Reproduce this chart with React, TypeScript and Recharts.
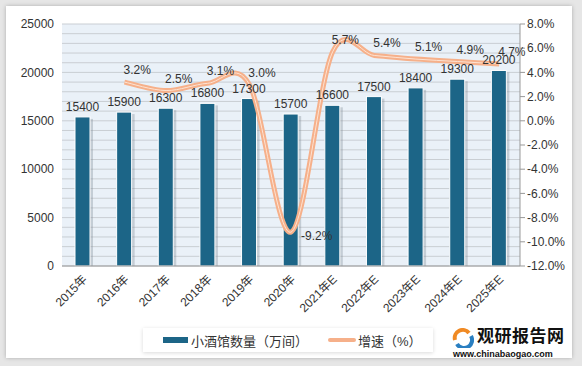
import React from 'react';
import { ComposedChart, Bar, Line, XAxis, YAxis, CartesianGrid, LabelList } from 'recharts';

// 小酒馆数量（万间）与增速
const years = ['2015年', '2016年', '2017年', '2018年', '2019年', '2020年', '2021年E', '2022年E', '2023年E', '2024年E', '2025年E'];
const counts = [15400, 15900, 16300, 16800, 17300, 15700, 16600, 17500, 18400, 19300, 20200];
const growth = [null, 3.2, 2.5, 3.1, 3.0, -9.2, 5.7, 5.4, 5.1, 4.9, 4.7];

const leftTicks = [0, 1000, 2000, 3000, 4000, 5000, 6000, 7000, 8000, 9000, 10000, 11000, 12000, 13000, 14000, 15000, 16000, 17000, 18000, 19000, 20000, 21000, 22000, 23000, 24000, 25000];
const rightTicks = [-12, -10, -8, -6, -4, -2, 0, 2, 4, 6, 8];

const BAR = '#1c6587';
const LINE = '#f6b08a';
const FONT = '"Liberation Sans", "Noto Sans CJK SC", sans-serif';

const chartData = years.map((y, i) => ({ year: y, count: counts[i], rate: growth[i] }));

// Catmull-Rom style smoothing, close to the office "smoothed line"
const smoothCurve = (context: any) => {
    let pts: number[][] = [];
    return {
        areaStart() {},
        areaEnd() {},
        lineStart() { pts = []; },
        point(x: number, y: number) { pts.push([+x, +y]); },
        lineEnd() {
            if (!pts.length) return;
            const k = 1 / 6;
            context.moveTo(pts[0][0], pts[0][1]);
            for (let i = 0; i < pts.length - 1; i++) {
                const p0 = pts[Math.max(i - 1, 0)];
                const p1 = pts[i];
                const p2 = pts[i + 1];
                const p3 = pts[Math.min(i + 2, pts.length - 1)];
                context.bezierCurveTo(
                    p1[0] + (p2[0] - p0[0]) * k, p1[1] + (p2[1] - p0[1]) * k,
                    p2[0] - (p3[0] - p1[0]) * k, p2[1] - (p3[1] - p1[1]) * k,
                    p2[0], p2[1]
                );
            }
        },
    };
};

const BarShape = (props: any) => {
    const { x, y, width, height } = props;
    return (
        <g>
            <rect x={x + 3} y={y + 2} width={width} height={height - 2} fill="#7d8a94" opacity={0.35} />
            <rect x={x} y={y} width={width} height={height} fill={BAR} stroke="#ffffff" strokeWidth={1} />
        </g>
    );
};

const XTick = (props: any) => {
    const { x, y, payload } = props;
    return (
        <text transform={`translate(${x + 5},${y + 6}) rotate(-45)`} textAnchor="end" fontSize={12} fill="#333" fontFamily={FONT}>
            {payload.value}
        </text>
    );
};

const RateLabel = (props: any) => {
    const { x, y, value } = props;
    if (value == null) return null;
    // negative value sits to the right of the dip, the rest above the line
    const neg = value < 0;
    return (
        <text x={neg ? x + 10 : x - 1} y={neg ? y + 8 : y - 8} fontSize={12} fill="#333" fontFamily={FONT}>
            {value.toFixed(1)}%
        </text>
    );
};

export default function App() {
    return (
        <div style={{ position: 'absolute', left: 0, top: 0, width: 582, height: 366, background: '#e6e6e6', fontFamily: FONT }}>
            <div style={{ position: 'absolute', left: 6, top: 6, width: 566, height: 352, background: '#fff', boxShadow: '0 0 4px rgba(0,0,0,0.25)' }} />
            <div style={{ position: 'absolute', left: 0, top: 0 }}>
                <ComposedChart width={582} height={366} data={chartData} margin={{ top: 24, right: 10, bottom: 0, left: 10 }} barCategoryGap={0}>
                    <CartesianGrid yAxisId="left" vertical={false} stroke="#c9ced3" fill="#eaf1f8" />
                    <XAxis dataKey="year" height={100} tick={<XTick />} interval={0} stroke="#999" tickLine={false} />
                    <YAxis yAxisId="left" width={52} domain={[0, 25000]} ticks={leftTicks} interval={0}
                        tickFormatter={(v: number) => (v % 5000 === 0 ? String(v) : '')}
                        axisLine={false} tickLine={false} tick={{ fontSize: 12, fill: '#333', fontFamily: FONT }} />
                    <YAxis yAxisId="right" orientation="right" width={52} domain={[-12, 8]} ticks={rightTicks} interval={0}
                        tickFormatter={(v: number) => v.toFixed(1) + '%'}
                        stroke="#999" tickSize={5} tick={{ fontSize: 12, fill: '#333', fontFamily: FONT, textAnchor: 'start' }} />
                    <Bar yAxisId="left" dataKey="count" barSize={15} shape={<BarShape />} isAnimationActive={false}>
                        <LabelList dataKey="count" position="top" offset={6} fontSize={12} fill="#333" fontFamily={FONT} />
                    </Bar>
                    <Line yAxisId="right" dataKey="rate" type={smoothCurve as any} stroke={LINE} strokeWidth={5} dot={false} isAnimationActive={false} connectNulls />
                    <Line yAxisId="right" dataKey="rate" type={smoothCurve as any} stroke="#fde3d2" strokeWidth={1} dot={false} isAnimationActive={false} connectNulls>
                        <LabelList dataKey="rate" content={<RateLabel />} />
                    </Line>
                </ComposedChart>
            </div>
            <div style={{ position: 'absolute', left: 143, top: 328, width: 290, height: 24, background: '#fff', boxShadow: '0 1px 4px rgba(0,0,0,0.15)', display: 'flex', alignItems: 'center', fontSize: 13, color: '#333', whiteSpace: 'nowrap' }}>
                <span style={{ display: 'inline-block', width: 25, height: 6, background: BAR, marginLeft: 20, marginRight: 3 }} />
                <span>小酒馆数量（万间）</span>
                <span style={{ display: 'inline-block', width: 28, height: 4, background: LINE, borderRadius: 2, marginLeft: 20, marginRight: 2 }} />
                <span>增速（%）</span>
            </div>
            <div style={{ position: 'absolute', left: 450, top: 326, width: 120, height: 34 }}>
                <svg width={22} height={20} style={{ position: 'absolute', left: 2, top: 2 }}>
                    <path d="M3 12 A8 8 0 0 1 17 5" stroke="#f08a24" strokeWidth={4} fill="none" />
                    <path d="M19 8 A8 8 0 0 1 5 16" stroke="#2a7fc1" strokeWidth={4} fill="none" />
                </svg>
                <div style={{ position: 'absolute', left: 27, top: 0, fontSize: 17, lineHeight: '21px', fontWeight: 'bold', color: '#111', letterSpacing: 0.5 }}>观研报告网</div>
                <div style={{ position: 'absolute', left: 3, top: 23, fontSize: 9, lineHeight: '10px', fontWeight: 'bold', color: '#111' }}>www.chinabaogao.com</div>
            </div>
        </div>
    );
}
